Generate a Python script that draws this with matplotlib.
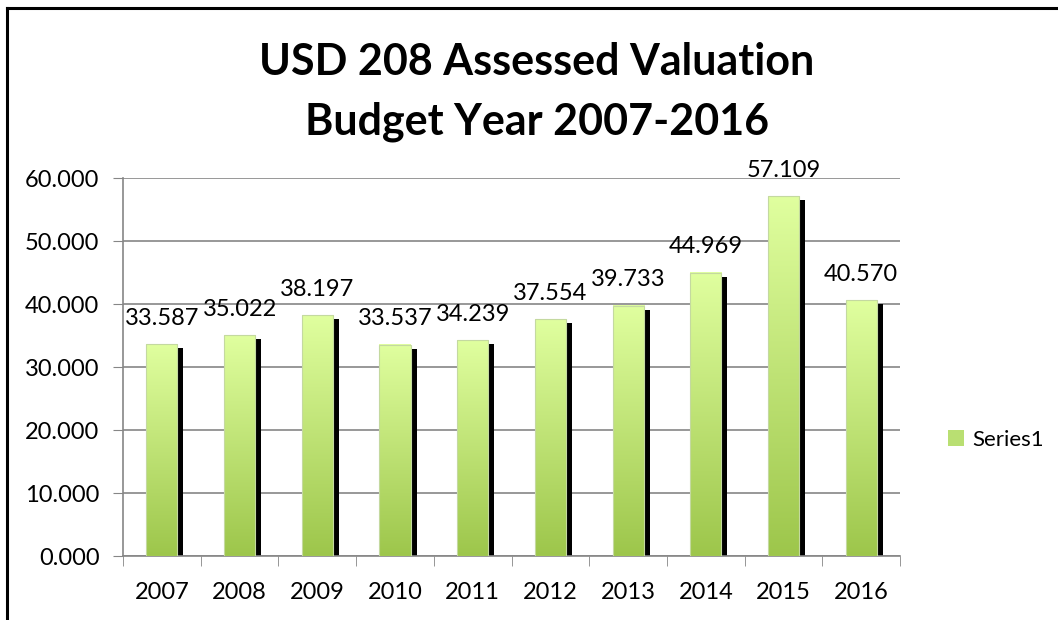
import numpy as np
import matplotlib
matplotlib.use("Agg")
import matplotlib.pyplot as plt
import matplotlib.transforms as mtransforms
from matplotlib.patches import Patch
from matplotlib.lines import Line2D

plt.rcParams['font.family'] = ['Lato', 'DejaVu Sans']

years = ['2007', '2008', '2009', '2010', '2011', '2012', '2013', '2014', '2015', '2016']
values = [33.587, 35.022, 38.197, 33.537, 34.239, 37.554, 39.733, 44.969, 57.109, 40.570]
yticks = [0, 10, 20, 30, 40, 50, 60]

fig = plt.figure(figsize=(10.58, 6.2), dpi=100)
ax = fig.add_axes([0.1163, 0.1032, 0.7344, 0.6097])

# frame of the chart area (only top and left visible)
fig.add_artist(Line2D([7/1058, 7/1058], [0, 1 - 8/620], color='black', lw=2.2))
fig.add_artist(Line2D([7/1058, 1], [1 - 8/620, 1 - 8/620], color='black', lw=2.2))

x = np.arange(len(years))
w = 0.4
shadow = ax.transData + mtransforms.ScaledTranslation(6/100, -4/100, fig.dpi_scale_trans)
ax.bar(x, values, width=w, color='black', zorder=2, transform=shadow)

# gradient bars
grad = np.linspace(0, 1, 256).reshape(-1, 1)
cmap = matplotlib.colors.LinearSegmentedColormap.from_list('g', ['#9dc64b', '#e0ff9f'])
bars = ax.bar(x, values, width=w, color='none', edgecolor='#c4d9a0', lw=0.8, zorder=4)
for b, v in zip(bars, values):
    x0 = b.get_x()
    ax.imshow(grad, extent=[x0, x0 + w, 0, v], origin='lower', cmap=cmap,
              aspect='auto', zorder=3)
    ax.annotate(f"{v:.3f}", (b.get_x() + w / 2, v), xytext=(0, 11),
                textcoords='offset points', ha='center', va='bottom', fontsize=17)

ax.set_xlim(-0.5, len(years) - 0.5)
ax.set_ylim(0, 60)
ax.set_yticks(yticks)
ax.set_yticklabels([f"{t:.3f}" for t in yticks], fontsize=17)
ax.set_xticks(x)
ax.set_xticklabels(years, fontsize=17)
ax.set_xticks(np.arange(-0.5, len(years)), minor=True)
ax.tick_params(axis='x', which='major', length=0, pad=19)
ax.tick_params(axis='x', which='minor', length=7, color='#868686')
ax.tick_params(axis='y', length=7, color='#868686', pad=10)
ax.grid(axis='y', color='#868686', lw=1.2, zorder=0)
ax.set_axisbelow(True)
for s in ['top', 'right']:
    ax.spines[s].set_visible(False)
for s in ['left', 'bottom']:
    ax.spines[s].set_color('#868686')
    ax.spines[s].set_linewidth(1.2)

fig.text(537/1058, 1 - 62/620, 'USD 208 Assessed Valuation', ha='center', va='center',
         fontsize=31, fontweight='bold')
fig.text(537/1058, 1 - 122/620, 'Budget Year 2007-2016', ha='center', va='center',
         fontsize=31, fontweight='bold')

fig.legend(handles=[Patch(facecolor='#b9df72', edgecolor='none', label='Series1')],
           loc='center left', bbox_to_anchor=(948/1058, 1 - 440/620), frameon=False,
           fontsize=16, handlelength=0.7, handleheight=0.7, handletextpad=0.4,
           borderpad=0, borderaxespad=0)

fig.savefig('out.png', dpi=100)
